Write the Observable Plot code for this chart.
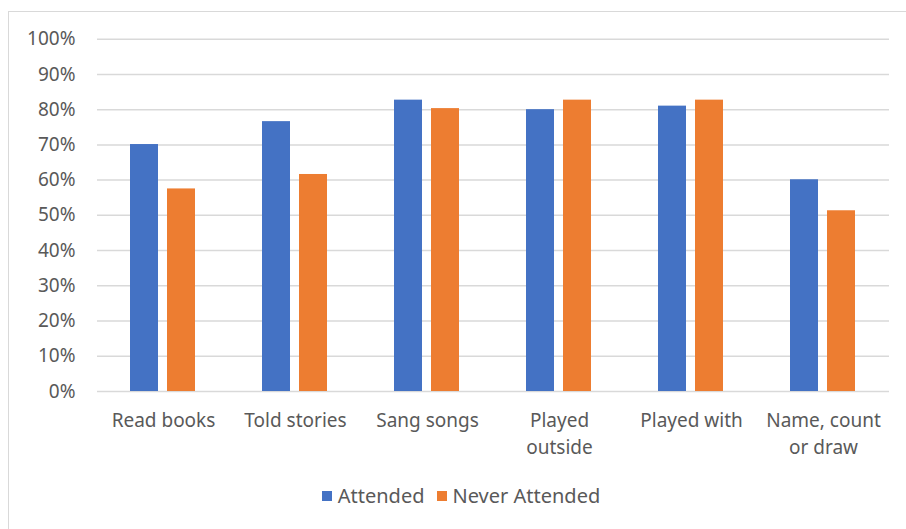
<!DOCTYPE html>
<html>
<head>
<meta charset="utf-8">
<script src="https://cdn.jsdelivr.net/npm/d3@7"></script>
<script src="https://cdn.jsdelivr.net/npm/@observablehq/plot@0.6"></script>
<style>
  html, body { margin: 0; padding: 0; background: #fff; }
  #chart {
    position: relative; width: 906px; height: 529px; overflow: hidden;
    font-family: "Noto Sans", sans-serif; color: #595959;
  }
  #border {
    position: absolute; left: 8px; top: 11px; width: 920px; height: 540px;
    border-left: 1.5px solid #d9d9d9; border-top: 1.5px solid #d9d9d9;
    box-sizing: border-box;
  }
  #plot { position: absolute; left: 0; top: 0; }
  #legend {
    position: absolute; left: 0; top: 482px; width: 906px;
    display: flex; justify-content: center; align-items: center;
    font-size: 20px; gap: 12px; padding-left: 16px; box-sizing: border-box;
  }
  .item { display: flex; align-items: center; gap: 6px; }
  .sw { width: 10px; height: 10px; display: inline-block; }
</style>
</head>
<body>
<div id="chart">
  <div id="border"></div>
  <div id="plot"></div>
  <div id="legend"></div>
</div>
<script>
// Activity categories and their axis labels (wrapped as in the chart)
const categories = ["Read books", "Told stories", "Sang songs", "Played outside", "Played with", "Name, count or draw"];
const categoryLabels = ["Read books", "Told stories", "Sang songs", "Played\noutside", "Played with", "Name, count\nor draw"];

// Series
const seriesNames = ["Attended", "Never Attended"];
const seriesColors = ["#4472C4", "#ED7D31"];

// Percent of children, by series
const attended = [70.1, 76.6, 82.7, 80.0, 81.0, 60.1];
const neverAttended = [57.5, 61.6, 80.3, 82.7, 82.7, 51.3];

// Y axis ticks
const yTicks = [0, 10, 20, 30, 40, 50, 60, 70, 80, 90, 100];

const rows = categories.flatMap((c, i) => [
  {category: c, series: seriesNames[0], value: attended[i]},
  {category: c, series: seriesNames[1], value: neverAttended[i]}
]);
const labelOf = new Map(categories.map((c, i) => [c, categoryLabels[i]]));

const plot = Plot.plot({
  width: 906,
  height: 470,
  marginTop: 38.7,
  marginBottom: 79,
  marginLeft: 96,
  marginRight: 16,
  style: {fontFamily: "Noto Sans, sans-serif", fontSize: "19px", color: "#595959", background: "transparent"},
  fx: {domain: categories, padding: 0},
  x: {domain: seriesNames, paddingInner: 0.237, paddingOuter: 0.86, axis: null},
  y: {domain: [0, 100]},
  color: {domain: seriesNames, range: seriesColors},
  marks: [
    Plot.ruleY(yTicks, {stroke: "#d9d9d9", strokeWidth: 1.5}),
    Plot.barY(rows, {fx: "category", x: "series", y: "value", fill: "series"}),
    Plot.axisY({
      ticks: yTicks, tickSize: 0, tickPadding: 22,
      tickFormat: d => d + "%", label: null, fontSize: 19
    }),
    Plot.axisFx({
      anchor: "bottom",
      tickSize: 0, tickPadding: 17, label: null, lineHeight: 1.4,
      tickFormat: d => labelOf.get(d), fontSize: 19
    })
  ]
});
document.getElementById("plot").appendChild(plot);

// Legend built from the series arrays
const legend = document.getElementById("legend");
seriesNames.forEach((name, i) => {
  const item = document.createElement("span");
  item.className = "item";
  const sw = document.createElement("span");
  sw.className = "sw";
  sw.style.background = seriesColors[i];
  item.appendChild(sw);
  item.appendChild(document.createTextNode(name));
  legend.appendChild(item);
});
</script>
</body>
</html>
